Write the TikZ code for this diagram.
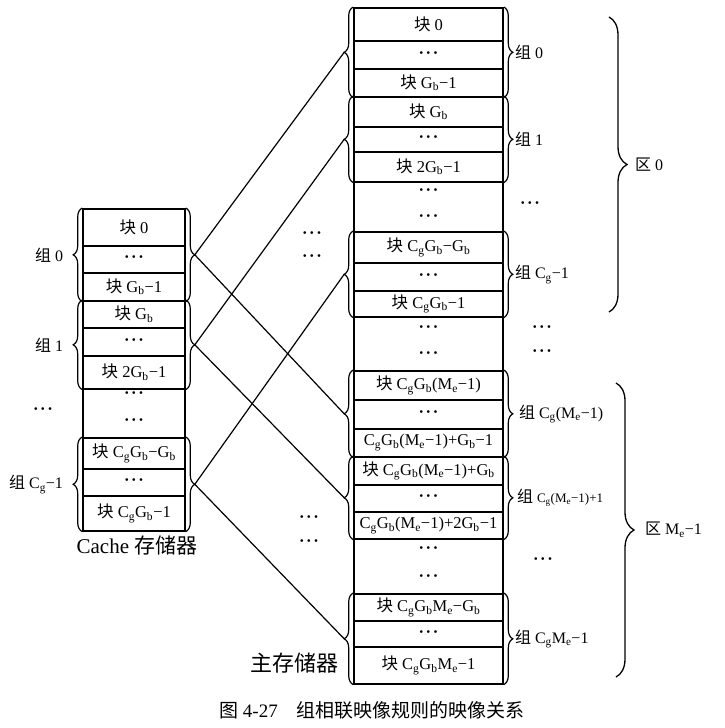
\documentclass[tikz,border=0pt]{standalone}
\usepackage{fontspec}
\setmainfont{Liberation Serif}
\newfontfamily\cjk{Noto Sans CJK SC}
\usetikzlibrary{positioning,decorations.pathreplacing}
\newcommand{\zh}[1]{{\cjk #1}}
\newcommand{\Gb}{G\textsubscript{b}}
\newcommand{\Cg}{C\textsubscript{g}}
\newcommand{\Me}{M\textsubscript{e}}
\newcommand{\dts}{{\bfseries ·\kern1.6pt·\kern1.6pt·}}

\begin{document}
\begin{tikzpicture}[x=1pt,y=-1pt]
  \tikzset{cell/.style={draw,line width=1.6pt,inner sep=0pt,anchor=north,font=\fontsize{16.5}{18}\selectfont},
           cc/.style={cell,minimum width=102pt},
           mc/.style={cell,minimum width=149pt},
           dot/.style={inner sep=0pt,font=\fontsize{16.5}{18}\selectfont},
           grp/.style={decorate,decoration={brace,amplitude=9pt},line width=1.2pt},
           area/.style={decorate,decoration={brace,amplitude=18pt},line width=1.3pt},
           lab/.style={inner sep=0pt,font=\fontsize{16}{18}\selectfont},
           link/.style={line width=1.2pt}}
  \useasboundingbox (0,0) rectangle (724,728);
  % Cache
  \node[cc,minimum height=37pt] (c0) at (134,208) {\zh{块} 0};
  \node[cc,minimum height=27pt] (c1) at (134,245) {\dts};
  \node[cc,minimum height=28pt] (c2) at (134,272) {\zh{块} \Gb−1};
  \node[cc,minimum height=27pt] (c3) at (134,300) {\zh{块} \Gb};
  \node[cc,minimum height=28pt] (c4) at (134,327) {\dts};
  \node[cc,minimum height=33pt] (c5) at (134,355) {\zh{块} 2\Gb−1};
  \node[cc,minimum height=49pt] (cd) at (134,388) {};
  \node[dot] (cd1) at (134,395) {\dts};
  \node[dot] (cd2) at (134,422) {\dts};
  \node[cc,minimum height=31pt] (c6) at (134,437) {\zh{块} \Cg\Gb−\Gb};
  \node[cc,minimum height=27pt] (c7) at (134,468) {\dts};
  \node[cc,minimum height=35pt] (c8) at (134,495) {\zh{块} \Cg\Gb−1};
  \node[font=\fontsize{21}{24}\selectfont] (cname) at (137,545) {Cache \zh{存储器}};
  \draw[grp] (c2.south west) -- (c0.north west) coordinate[midway,xshift=-9pt] (cg0l);
  \draw[grp] (c0.north east) -- (c2.south east) coordinate[midway,xshift=9pt] (cg0r);
  \draw[grp] (c5.south west) -- (c3.north west) coordinate[midway,xshift=-9pt] (cg1l);
  \draw[grp] (c3.north east) -- (c5.south east) coordinate[midway,xshift=9pt] (cg1r);
  \draw[grp] (c8.south west) -- (c6.north west) coordinate[midway,xshift=-9pt] (cgnl);
  \draw[grp] (c6.north east) -- (c8.south east) coordinate[midway,xshift=9pt] (cgnr);
  \node[lab,left=10pt of cg0l] (cl0) {\zh{组} 0};
  \node[lab,left=10pt of cg1l] (cl1) {\zh{组} 1};
  \node[dot] (cdl) at (43,411) {\dts};
  \node[lab,left=10pt of cgnl] (cln) {\zh{组} \Cg−1};
  % main memory
  \node[mc,minimum height=33pt] (m0) at (428.5,7) {\zh{块} 0};
  \node[mc,minimum height=28pt] (m1) at (428.5,40) {\dts};
  \node[mc,minimum height=28pt] (m2) at (428.5,68) {\zh{块} \Gb−1};
  \node[mc,minimum height=30pt] (m3) at (428.5,96) {\zh{块} \Gb};
  \node[mc,minimum height=25pt] (m4) at (428.5,126) {\dts};
  \node[mc,minimum height=30pt] (m5) at (428.5,151) {\zh{块} 2\Gb−1};
  \node[mc,minimum height=50pt] (md1) at (428.5,181) {};
  \node[dot] (md1a) at (428.5,192) {\dts};
  \node[dot] (md1b) at (428.5,218) {\dts};
  \node[mc,minimum height=31pt] (m6) at (428.5,231) {\zh{块} \Cg\Gb−\Gb};
  \node[mc,minimum height=28pt] (m7) at (428.5,262) {\dts};
  \node[mc,minimum height=26pt] (m8) at (428.5,290) {\zh{块} \Cg\Gb−1};
  \node[mc,minimum height=54pt] (md2) at (428.5,316) {};
  \node[dot] (md2a) at (428.5,329) {\dts};
  \node[dot] (md2b) at (428.5,355) {\dts};
  \node[mc,minimum height=29pt] (m9) at (428.5,370) {\zh{块} \Cg\Gb(\Me−1)};
  \node[mc,minimum height=29pt] (m10) at (428.5,399) {\dts};
  \node[mc,minimum height=28pt] (m11) at (428.5,428) {\Cg\Gb(\Me−1)+\Gb−1};
  \node[mc,minimum height=28pt] (m12) at (428.5,456) {\zh{块} \Cg\Gb(\Me−1)+\Gb};
  \node[mc,minimum height=27pt] (m13) at (428.5,484) {\dts};
  \node[mc,minimum height=27pt] (m14) at (428.5,511) {\Cg\Gb(\Me−1)+2\Gb−1};
  \node[mc,minimum height=55pt] (md3) at (428.5,538) {};
  \node[dot] (md3a) at (428.5,550) {\dts};
  \node[dot] (md3b) at (428.5,578) {\dts};
  \node[mc,minimum height=27pt] (m15) at (428.5,593) {\zh{块} \Cg\Gb\Me−\Gb};
  \node[mc,minimum height=26pt] (m16) at (428.5,620) {\dts};
  \node[mc,minimum height=37pt] (m17) at (428.5,646) {\zh{块} \Cg\Gb\Me−1};
  \node[font=\fontsize{22}{24}\selectfont] (mname) at (294,663) {\zh{主存储器}};
  % main memory groups
  \draw[grp] (m2.south west) -- (m0.north west) coordinate[midway,xshift=-9pt] (mg0);
  \draw[grp] (m0.north east) -- (m2.south east) coordinate[midway,xshift=9pt] (mg0r);
  \draw[grp] (m5.south west) -- (m3.north west) coordinate[midway,xshift=-9pt] (mg1);
  \draw[grp] (m3.north east) -- (m5.south east) coordinate[midway,xshift=9pt] (mg1r);
  \draw[grp] (m8.south west) -- (m6.north west) coordinate[midway,xshift=-9pt] (mgn);
  \draw[grp] (m6.north east) -- (m8.south east) coordinate[midway,xshift=9pt] (mgnr);
  \draw[grp] (m11.south west) -- (m9.north west) coordinate[midway,xshift=-9pt] (mga);
  \draw[grp] (m9.north east) -- (m11.south east) coordinate[midway,xshift=9pt] (mgar);
  \draw[grp] (m14.south west) -- (m12.north west) coordinate[midway,xshift=-9pt] (mgb);
  \draw[grp] (m12.north east) -- (m14.south east) coordinate[midway,xshift=9pt] (mgbr);
  \draw[grp] (m17.south west) -- (m15.north west) coordinate[midway,xshift=-9pt] (mgz);
  \draw[grp] (m15.north east) -- (m17.south east) coordinate[midway,xshift=9pt] (mgzr);
  \node[lab,right=2pt of mg0r] (ml0) {\zh{组} 0};
  \node[lab,right=2pt of mg1r] (ml1) {\zh{组} 1};
  \node[lab,right=2pt of mgnr] (mln) {\zh{组} \Cg−1};
  \node[lab,right=6pt of mgar] (mla) {\zh{组} \Cg(\Me−1)};
  \node[lab,right=4pt of mgbr] (mlb) {\zh{组} {\fontsize{13}{15}\selectfont\Cg(\Me−1)+1}};
  \node[lab,right=2pt of mgzr] (mlz) {\zh{组} \Cg\Me−1};
  \node[dot] (mr1) at (530,205) {\dts};
  \node[dot] (mr2) at (542,329) {\dts};
  \node[dot] (mr3) at (542,353) {\dts};
  \node[dot] (mr4) at (543,561) {\dts};
  \node[dot] (mid1) at (312,235) {\dts};
  \node[dot] (mid2) at (312,258) {\dts};
  \node[dot] (mid3) at (309,519) {\dts};
  \node[dot] (mid4) at (309,543) {\dts};
  % areas
  \draw[area] (609,17) -- (609,312) coordinate[midway,xshift=18pt] (q0);
  \node[lab,right=8pt of q0] (ql0) {\zh{区} 0};
  \draw[area] (616,383) -- (616,677) coordinate[midway,xshift=18pt] (q1);
  \node[lab,right=11pt of q1] (ql1) {\zh{区} \Me−1};
  % mapping
  \draw[link] (cg0r) -- (mg0);
  \draw[link] (cg0r) -- (mga);
  \draw[link] (cg1r) -- (mg1);
  \draw[link] (cg1r) -- (mgb);
  \draw[link] (cgnr) -- (mgn);
  \draw[link] (cgnr) -- (mgz);
  \node[font=\fontsize{19}{22}\selectfont] (cap) at (372,710) {\zh{图} 4-27\hspace{1em}\zh{组相联映像规则的映像关系}};
\end{tikzpicture}
\end{document}
